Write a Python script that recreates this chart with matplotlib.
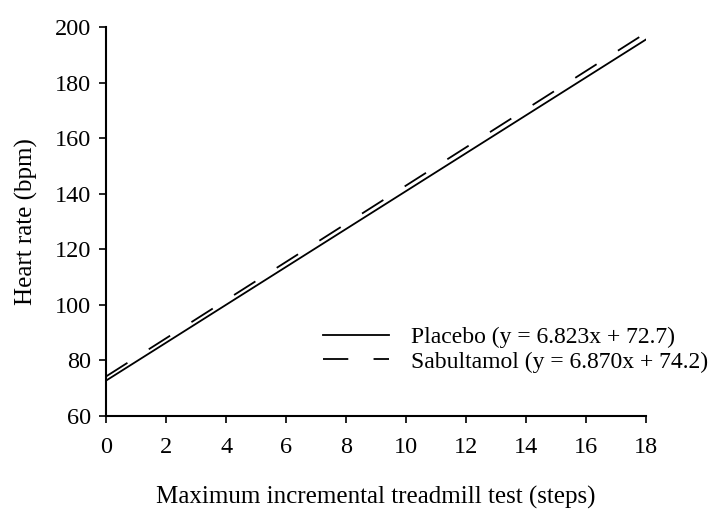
import matplotlib.pyplot as plt

plt.rcParams['font.family'] = ['Liberation Serif', 'DejaVu Serif']

# regression lines, read at the ends of the plotted range
stepsRange = [0, 18]
placeboHR = [72.7, 195.5]
salbutamolHR = [74.2, 197.9]

placeboLabel = 'Placebo (y = 6.823x + 72.7)'
salbutamolLabel = 'Sabultamol (y = 6.870x + 74.2)'

xTicks = list(range(0, 19, 2))
yTicks = list(range(60, 201, 20))

fig = plt.figure(figsize=(7.17, 5.09), dpi=100)
ax = fig.add_axes([0.148, 0.183, 0.753, 0.764])

ax.plot(stepsRange, placeboHR, color='black', lw=1.3, label=placeboLabel)
ax.plot(stepsRange, salbutamolHR, color='black', lw=1.3, dashes=(14, 14), label=salbutamolLabel)

ax.set_xlim(0, 18)
ax.set_ylim(60, 200)
ax.set_xticks(xTicks)
ax.set_yticks(yTicks)
ax.tick_params(labelsize=17.5, direction='out', length=5, width=1.2)
ax.tick_params(axis='x', pad=10)
ax.tick_params(axis='y', pad=6)
ax.spines['top'].set_visible(False)
ax.spines['right'].set_visible(False)
ax.spines['left'].set_linewidth(1.5)
ax.spines['bottom'].set_linewidth(1.5)

ax.set_xlabel('Maximum incremental treadmill test (steps)', fontsize=18, labelpad=20)
ax.set_ylabel('Heart rate (bpm)', fontsize=18, labelpad=12)

ax.legend(loc='center left', bbox_to_anchor=(0.450, 0.313), bbox_transform=fig.transFigure,
          frameon=False, fontsize=17, borderpad=0, borderaxespad=0,
          handlelength=2.8, handletextpad=0.95, labelspacing=0.12)

fig.savefig('out.png', dpi=100)
